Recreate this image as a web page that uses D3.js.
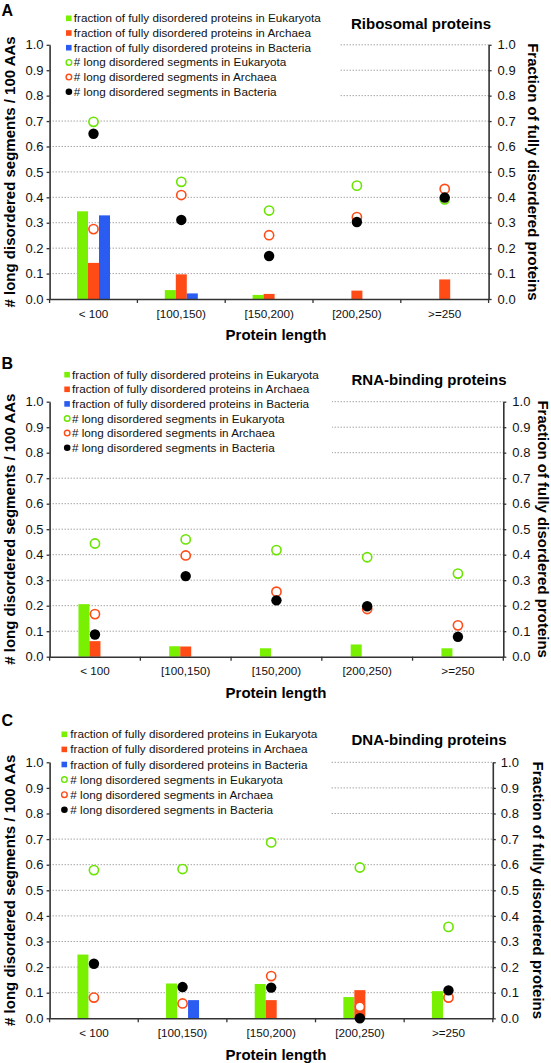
<!DOCTYPE html>
<html>
<head>
<meta charset="utf-8">
<script src="https://cdn.jsdelivr.net/npm/d3@7"></script>
<style>
  html, body { margin: 0; padding: 0; background: #fff; }
  svg { display: block; font-family: "Liberation Sans", Arial, Helvetica, sans-serif; }
</style>
</head>
<body>
<svg id="chart" width="551" height="1063"></svg>
<script>
// ---------------- DATA ----------------
const categories = ["< 100", "[100,150)", "[150,200)", "[200,250)", ">=250"];
const yTickValues = [0, 0.1, 0.2, 0.3, 0.4, 0.5, 0.6, 0.7, 0.8, 0.9, 1.0];

const legendLabels = [
  "fraction of fully disordered proteins in Eukaryota",
  "fraction of fully disordered proteins in Archaea",
  "fraction of fully disordered proteins in Bacteria",
  "# long disordered segments in Eukaryota",
  "# long disordered segments in Archaea",
  "# long disordered segments in Bacteria"
];
const panelLetters = ["A", "B", "C"];
const panelTitles = ["Ribosomal proteins", "RNA-binding proteins", "DNA-binding proteins"];
const leftAxisTitle = "# long disordered segments / 100 AAs";
const rightAxisTitle = "Fraction of fully disordered proteins";
const xAxisTitle = "Protein length";

// Panel A: Ribosomal proteins
const riboFracEuk  = [0.345, 0.035, 0.016, 0, 0];
const riboFracArch = [0.142, 0.097, 0.020, 0.033, 0.077];
const riboFracBact = [0.329, 0.022, 0, 0, 0];
const riboSegEuk   = [0.697, 0.461, 0.348, 0.446, 0.392];
const riboSegArch  = [0.275, 0.409, 0.251, 0.322, 0.433];
const riboSegBact  = [0.650, 0.311, 0.169, 0.303, 0.399];

// Panel B: RNA-binding proteins
const rnaFracEuk  = [0.206, 0.041, 0.033, 0.048, 0.033];
const rnaFracArch = [0.061, 0.040, 0, 0, 0];
const rnaFracBact = [0, 0, 0, 0, 0];
const rnaSegEuk   = [0.444, 0.460, 0.418, 0.390, 0.326];
const rnaSegArch  = [0.167, 0.397, 0.255, 0.187, 0.123];
const rnaSegBact  = [0.087, 0.316, 0.221, 0.198, 0.078];

// Panel C: DNA-binding proteins
const dnaFracEuk  = [0.249, 0.136, 0.134, 0.083, 0.106];
const dnaFracArch = [0, 0, 0.071, 0.110, 0];
const dnaFracBact = [0, 0.071, 0, 0, 0];
const dnaSegEuk   = [0.579, 0.583, 0.687, 0.589, 0.357];
const dnaSegArch  = [0.081, 0.058, 0.165, 0.045, 0.081];
const dnaSegBact  = [0.213, 0.122, 0.120, 0.000, 0.109];

// ---------------- STYLE / LAYOUT ----------------
const COL = {
  euk: "#78f000", arch: "#ff4c17", bact: "#2b5cf2",
  eukLine: "#6ae400", archLine: "#ff4c17",
  grid: "#9a9a9a", axis: "#333", text: "#111"
};
const FONT = "'Liberation Sans', Arial, Helvetica, sans-serif";

const layouts = [
  { left: 49.6, right: 488.6, top: 44.8, bottom: 299, letterY: 10, legX: 66, legTextX: 73.8, legY0: 18.3, legStep: 14.7,
    titleX: 421, titleY: 24, gridStart: 340, rTickPad: 6, rTitleX: 533, catY: 313.5, xTitleY: 335 },
  { left: 49.6, right: 503.3, top: 401.7, bottom: 656.7, letterY: 363, legX: 64.3, legTextX: 72, legY0: 374.7, legStep: 14.6,
    titleX: 429, titleY: 379.3, gridStart: 332, rTickPad: 6, rTitleX: 543, catY: 670.7, xTitleY: 692.7 },
  { left: 49.6, right: 492.8, top: 762.3, bottom: 1018.3, letterY: 720.7, legX: 61.5, legTextX: 70.3, legY0: 734.3, legStep: 15.1,
    titleX: 429, titleY: 740, gridStart: 330, rTickPad: 5, rTitleX: 538, catY: 1033.3, xTitleY: 1054.3 }
];

const panelData = [
  { frac: [riboFracEuk, riboFracArch, riboFracBact], seg: [riboSegEuk, riboSegArch, riboSegBact] },
  { frac: [rnaFracEuk, rnaFracArch, rnaFracBact],    seg: [rnaSegEuk, rnaSegArch, rnaSegBact] },
  { frac: [dnaFracEuk, dnaFracArch, dnaFracBact],    seg: [dnaSegEuk, dnaSegArch, dnaSegBact] }
];

const svg = d3.select("#chart");
const barColors = [COL.euk, COL.arch, COL.bact];
const groups = ["Euk", "Arch", "Bact"];

function drawPanel(i) {
  const p = layouts[i];
  const d = panelData[i];
  const g = svg.append("g");

  const x = d3.scaleBand().domain(categories).range([p.left, p.right]).padding(0);
  const y = d3.scaleLinear().domain([0, 1]).range([p.bottom, p.top]);
  const sub = d3.scaleBand().domain(groups).range([-16.5, 16.5]).padding(0);
  const cx = c => x(c) + x.bandwidth() / 2;

  // gridlines
  g.append("g").selectAll("line")
    .data(yTickValues.filter(v => v > 0))
    .join("line")
    .attr("x1", p.left).attr("x2", p.right)
    .attr("y1", v => y(v)).attr("y2", v => y(v))
    .attr("stroke", COL.grid).attr("stroke-width", 1)
    .attr("stroke-dasharray", "1.3,1.7");

  // legend background (covers top gridlines)
  g.append("rect")
    .attr("x", p.left + 1).attr("y", p.top - 30)
    .attr("width", p.gridStart - p.left - 1)
    .attr("height", y(0.8) - (p.top - 30) + 4)
    .attr("fill", "#fff");

  // bars
  groups.forEach((grp, gi) => {
    g.append("g").selectAll("rect")
      .data(categories.map((c, ci) => ({ c, v: d.frac[gi][ci] })).filter(o => o.v > 0))
      .join("rect")
      .attr("x", o => cx(o.c) + sub(grp))
      .attr("width", sub.bandwidth())
      .attr("y", o => y(o.v))
      .attr("height", o => y(0) - y(o.v))
      .attr("fill", barColors[gi]);
  });

  // left axis
  const la = g.append("g").attr("transform", `translate(${p.left},0)`)
    .call(d3.axisLeft(y).tickValues(yTickValues).tickFormat(d3.format(".1f")).tickSize(3).tickSizeOuter(0).tickPadding(3));
  // right axis
  const ra = g.append("g").attr("transform", `translate(${p.right},0)`)
    .call(d3.axisRight(y).tickValues(yTickValues).tickFormat(d3.format(".1f")).tickSize(3).tickSizeOuter(0).tickPadding(p.rTickPad));
  [la, ra].forEach(a => {
    a.select(".domain").attr("stroke", COL.axis).attr("stroke-width", 1.6);
    a.selectAll(".tick line").attr("stroke", COL.axis).attr("stroke-width", 1.3);
    a.selectAll(".tick text").attr("font-size", 13).attr("font-family", FONT).attr("fill", COL.text);
  });

  // x axis
  const xa = g.append("g").attr("transform", `translate(0,${p.bottom})`)
    .call(d3.axisBottom(x).tickSize(0).tickSizeOuter(0).tickPadding(0));
  xa.select(".domain").attr("stroke", COL.axis).attr("stroke-width", 1.6);
  xa.selectAll(".tick text")
    .attr("y", p.catY - p.bottom).attr("dy", "0.35em")
    .attr("font-size", 11.7).attr("font-family", FONT).attr("fill", COL.text);
  // boundary ticks
  const bounds = categories.map(c => x(c)).concat([p.right]);
  xa.append("g").selectAll("line").data(bounds).join("line")
    .attr("x1", b => b).attr("x2", b => b).attr("y1", 0).attr("y2", 4)
    .attr("stroke", COL.axis).attr("stroke-width", 1.3);

  // points: Eukaryota (open), Archaea (open), Bacteria (filled)
  const ptStyles = [
    { fill: "#fff", stroke: COL.eukLine, sw: 1.6, r: 4.6 },
    { fill: "#fff", stroke: COL.archLine, sw: 1.6, r: 4.6 },
    { fill: "#000", stroke: "#000", sw: 0, r: 5.2 }
  ];
  ptStyles.forEach((st, si) => {
    g.append("g").selectAll("circle")
      .data(categories.map((c, ci) => ({ c, v: d.seg[si][ci] })))
      .join("circle")
      .attr("cx", o => cx(o.c)).attr("cy", o => y(o.v))
      .attr("r", st.r).attr("fill", st.fill)
      .attr("stroke", st.stroke).attr("stroke-width", st.sw);
  });

  // panel letter
  g.append("text").text(panelLetters[i])
    .attr("x", 1.5).attr("y", p.letterY).attr("dy", "0.35em")
    .attr("font-size", 16).attr("font-weight", "bold").attr("font-family", FONT).attr("fill", "#000");

  // title
  g.append("text").text(panelTitles[i])
    .attr("x", p.titleX).attr("y", p.titleY).attr("dy", "0.35em")
    .attr("text-anchor", "middle")
    .attr("font-size", 15).attr("font-weight", "bold").attr("font-family", FONT).attr("fill", "#000");

  // legend
  const lg = g.append("g");
  legendLabels.forEach((lab, li) => {
    const ly = p.legY0 + li * p.legStep;
    if (li < 3) {
      lg.append("rect").attr("x", p.legX).attr("y", ly - 2.8).attr("width", 5.6).attr("height", 5.6)
        .attr("fill", barColors[li]);
    } else {
      const st = ptStyles[li - 3];
      lg.append("circle").attr("cx", p.legX + 2.9).attr("cy", ly)
        .attr("r", li === 5 ? 3.3 : 2.8).attr("fill", st.fill)
        .attr("stroke", st.stroke).attr("stroke-width", li === 5 ? 0 : 1.4);
    }
    lg.append("text").text(lab)
      .attr("x", p.legTextX).attr("y", ly).attr("dy", "0.35em")
      .attr("font-size", 11.7).attr("font-family", FONT).attr("fill", COL.text);
  });

  // axis titles
  const midY = (p.top + p.bottom) / 2;
  g.append("text").text(leftAxisTitle)
    .attr("transform", `translate(9.5,${midY}) rotate(-90)`)
    .attr("dy", "0.35em").attr("text-anchor", "middle")
    .attr("font-size", 15).attr("font-weight", "bold").attr("font-family", FONT).attr("fill", "#000");
  g.append("text").text(rightAxisTitle)
    .attr("transform", `translate(${p.rTitleX},${midY}) rotate(90)`)
    .attr("dy", "0.35em").attr("text-anchor", "middle")
    .attr("font-size", 15).attr("font-weight", "bold").attr("font-family", FONT).attr("fill", "#000");
  g.append("text").text(xAxisTitle)
    .attr("x", 276).attr("y", p.xTitleY).attr("dy", "0.35em").attr("text-anchor", "middle")
    .attr("font-size", 15).attr("font-weight", "bold").attr("font-family", FONT).attr("fill", "#000");
}

[0, 1, 2].forEach(drawPanel);
</script>
</body>
</html>
